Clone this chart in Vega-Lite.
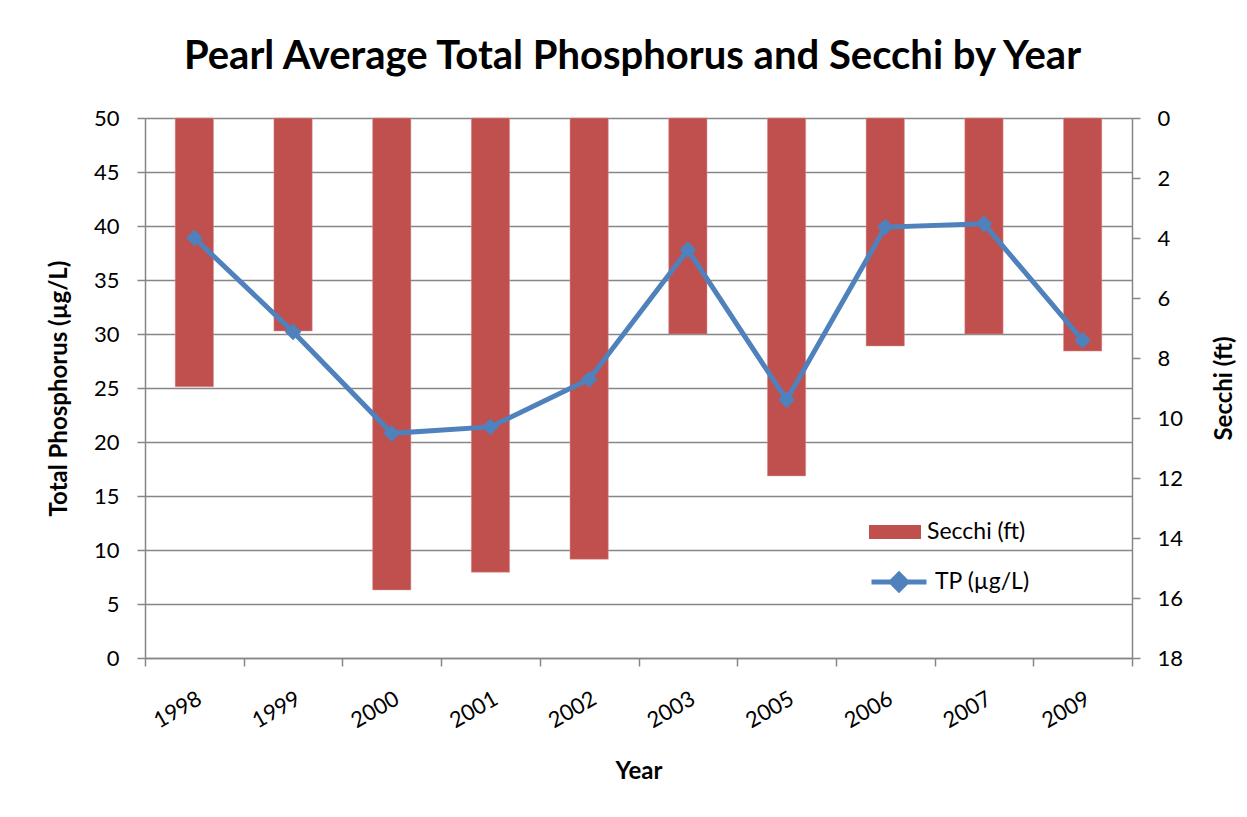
{
  "$schema": "https://vega.github.io/schema/vega-lite/v6.json",
  "width": 987,
  "height": 540,
  "autosize": {"type": "none"},
  "padding": {"left": 145, "top": 118, "right": 115, "bottom": 159},
  "background": "white",
  "config": {
    "font": "Lato",
    "view": {"stroke": null},
    "axis": {
      "domainColor": "#868686",
      "tickColor": "#868686",
      "gridColor": "#868686",
      "labelColor": "black",
      "titleColor": "black",
      "labelFontSize": 22,
      "titleFontSize": 24,
      "titleFontWeight": "bold",
      "labelFont": "Lato",
      "titleFont": "Lato",
      "tickSize": 8,
      "domainWidth": 1.5,
      "tickWidth": 1.5
    }
  },
  "title": {
    "text": "Pearl Average Total Phosphorus and Secchi by Year",
    "fontSize": 40,
    "fontWeight": "bold",
    "color": "black",
    "font": "Lato",
    "anchor": "middle",
    "frame": "group",
    "baseline": "alphabetic",
    "offset": 50,
    "dy": 52,
    "dx": -6
  },
  "data": {
    "values": [
      {"Year": "1998", "Secchi": 8.96, "TP": 38.9},
      {"Year": "1999", "Secchi": 7.1, "TP": 30.2},
      {"Year": "2000", "Secchi": 15.73, "TP": 20.8},
      {"Year": "2001", "Secchi": 15.14, "TP": 21.4},
      {"Year": "2002", "Secchi": 14.71, "TP": 25.8},
      {"Year": "2003", "Secchi": 7.2, "TP": 37.8},
      {"Year": "2005", "Secchi": 11.93, "TP": 23.9},
      {"Year": "2006", "Secchi": 7.6, "TP": 39.9},
      {"Year": "2007", "Secchi": 7.2, "TP": 40.2},
      {"Year": "2009", "Secchi": 7.77, "TP": 29.4}
    ]
  },
  "encoding": {
    "x": {
      "field": "Year",
      "type": "nominal",
      "sort": null,
      "scale": {"paddingInner": 0, "paddingOuter": 0},
      "axis": {
        "title": "Year",
        "labelAngle": -30,
        "labelAlign": "right",
        "labelBaseline": "top",
        "labelPadding": 22,
        "tickBand": "extent",
        "titlePadding": 28,
        "grid": false,
        "labelFontSize": 22
      }
    }
  },
  "layer": [
    {
      "mark": {"type": "bar", "stroke": "#D99694", "strokeWidth": 0.5, "width": {"band": 0.388}},
      "encoding": {
        "y": {
          "field": "Secchi",
          "type": "quantitative",
          "scale": {"domain": [0, 18], "reverse": true, "nice": false, "zero": true},
          "axis": {
            "orient": "right",
            "title": "Secchi (ft)",
            "titleAngle": -90,
            "titleBaseline": "top",
            "values": [0, 2, 4, 6, 8, 10, 12, 14, 16, 18],
            "grid": false,
            "labelPadding": 17,
            "titlePadding": 30,
            "labelFlush": false,
            "labelOverlap": false
          }
        },
        "fill": {
          "datum": "Secchi (ft)",
          "type": "nominal",
          "scale": {"range": ["#C0504D"]},
          "legend": {
            "title": null,
            "orient": "none",
            "legendX": 724,
            "legendY": 388,
            "symbolType": "M-1,-0.27H1V0.27H-1Z",
            "symbolSize": 2704,
            "symbolStrokeWidth": 0,
            "labelFontSize": 23,
            "labelFont": "Lato",
            "labelColor": "black",
            "labelOffset": 6,
            "padding": 0
          }
        }
      }
    },
    {
      "layer": [
        {
          "mark": {"type": "line", "strokeWidth": 5},
          "encoding": {
            "y": {
              "field": "TP",
              "type": "quantitative",
              "scale": {"domain": [0, 50], "nice": false},
              "axis": {
                "orient": "left",
                "title": "Total Phosphorus (µg/L)",
                "values": [0, 5, 10, 15, 20, 25, 30, 35, 40, 45, 50],
                "grid": true,
                "gridWidth": 1.5,
                "labelPadding": 18,
                "titlePadding": 22,
                "labelFlush": false,
                "labelOverlap": false
              }
            },
            "stroke": {
              "datum": "TP (µg/L)",
              "type": "nominal",
              "scale": {"range": ["#4F81BD"]},
              "legend": {
                "title": null,
                "orient": "none",
                "legendX": 724,
                "legendY": 434,
                "symbolType": "M-1,0H1M0,-0.28L0.28,0L0,0.28L-0.28,0Z",
                "symbolSize": 3025,
                "symbolStrokeWidth": 5,
                "symbolFillColor": "#4F81BD",
                "labelFontSize": 23,
                "labelFont": "Lato",
                "labelColor": "black",
                "labelOffset": 6,
                "padding": 0
              }
            }
          }
        },
        {
          "mark": {"type": "point", "shape": "diamond", "filled": true, "size": 280, "color": "#4F81BD", "opacity": 1},
          "encoding": {
            "y": {
              "field": "TP",
              "type": "quantitative",
              "scale": {"domain": [0, 50], "nice": false},
              "axis": {
                "orient": "left",
                "title": "Total Phosphorus (µg/L)",
                "values": [0, 5, 10, 15, 20, 25, 30, 35, 40, 45, 50],
                "grid": true,
                "gridWidth": 1.5,
                "labelPadding": 18,
                "titlePadding": 22,
                "labelFlush": false,
                "labelOverlap": false
              }
            }
          }
        }
      ]
    }
  ],
  "resolve": {"scale": {"y": "independent"}}
}
